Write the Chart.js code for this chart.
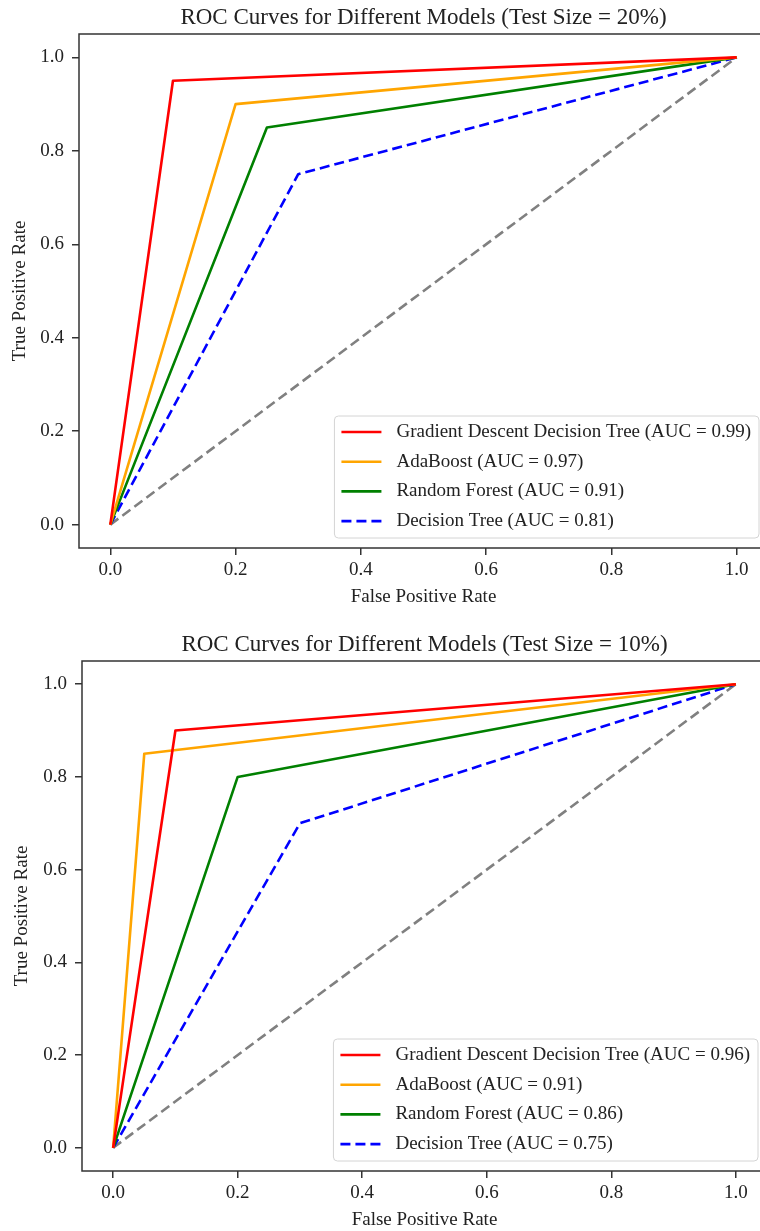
<!DOCTYPE html>
<html>
<head>
<meta charset="utf-8">
<script src="https://cdn.jsdelivr.net/npm/chart.js@4.4.0/dist/chart.umd.min.js"></script>
<style>
  html, body { margin: 0; padding: 0; background: #fff; overflow: hidden; }
  canvas { display: block; }
</style>
</head>
<body>
<canvas id="roc20" width="770" height="620"></canvas>
<canvas id="roc10" width="770" height="611"></canvas>
<script>
// models and AUC scores shown in the legends
var modelNames = ['Gradient Descent Decision Tree', 'AdaBoost', 'Random Forest', 'Decision Tree'];
var auc20 = [0.99, 0.97, 0.91, 0.81];
var auc10 = [0.96, 0.91, 0.86, 0.75];

// ROC points for test size 20%
var fpr20 = [[0, 0.1, 1], [0, 0.2, 1], [0, 0.25, 1], [0, 0.3, 1]];
var tpr20 = [[0, 0.95, 1], [0, 0.9, 1], [0, 0.85, 1], [0, 0.75, 1]];

// ROC points for test size 10%
var fpr10 = [[0, 0.1, 1], [0, 0.05, 1], [0, 0.2, 1], [0, 0.3, 1]];
var tpr10 = [[0, 0.9, 1], [0, 0.85, 1], [0, 0.8, 1], [0, 0.7, 1]];

// chance diagonal
var chanceX = [0, 1];
var chanceY = [0, 1];

// tick labels on both axes
var tickValues = [0, 0.2, 0.4, 0.6, 0.8, 1.0];

var lineColors = ['#ff0000', '#ffa500', '#008000', '#0000ff'];
var lineDashes = [[], [], [], [10, 5]];
var textColor = '#222';
var serif = "'Liberation Serif', 'Times New Roman', serif";

Chart.defaults.font.family = serif;
Chart.defaults.color = textColor;

function toPoints(xs, ys) {
  return xs.map(function (x, i) { return { x: x, y: ys[i] }; });
}

// legend drawn inside the plot, lower right
var insideLegend = {
  id: 'insideLegend',
  afterDatasetsDraw: function (chart) {
    var ctx = chart.ctx;
    var area = chart.chartArea;
    var items = chart.data.datasets.filter(function (d) { return d.label; });
    ctx.save();
    ctx.font = '19px ' + serif;
    var textW = 0;
    items.forEach(function (d) {
      textW = Math.max(textW, ctx.measureText(d.label).width);
    });
    var w = 7 + 40 + 15 + textW + 8;
    var h = 122;
    var x = area.right - 9 - w;
    var y = area.bottom - 10 - h;
    ctx.beginPath();
    ctx.roundRect(x, y, w, h, 4);
    ctx.fillStyle = 'rgba(255,255,255,0.8)';
    ctx.fill();
    ctx.strokeStyle = '#d4d4d4';
    ctx.lineWidth = 1;
    ctx.stroke();
    items.forEach(function (d, i) {
      var cy = y + 16 + i * 29.7;
      ctx.beginPath();
      ctx.setLineDash(d.borderDash || []);
      ctx.strokeStyle = d.borderColor;
      ctx.lineWidth = d.borderWidth;
      ctx.moveTo(x + 7, cy);
      ctx.lineTo(x + 47, cy);
      ctx.stroke();
      ctx.setLineDash([]);
      ctx.fillStyle = textColor;
      ctx.textBaseline = 'middle';
      ctx.fillText(d.label, x + 62, cy);
    });
    ctx.restore();
  }
};

// box around the plot area
var frame = {
  id: 'frame',
  afterDraw: function (chart) {
    var a = chart.chartArea;
    var ctx = chart.ctx;
    ctx.save();
    ctx.strokeStyle = '#333';
    ctx.lineWidth = 1.5;
    ctx.strokeRect(a.left, a.top, a.right - a.left, a.bottom - a.top);
    ctx.restore();
  }
};

function makeChart(id, title, fpr, tpr, auc, lay) {
  var datasets = modelNames.map(function (name, i) {
    return {
      label: name + ' (AUC = ' + auc[i].toFixed(2) + ')',
      data: toPoints(fpr[i], tpr[i]),
      borderColor: lineColors[i],
      borderWidth: 2.6,
      borderDash: lineDashes[i],
      borderJoinStyle: 'round',
      pointRadius: 0,
      fill: false,
      tension: 0
    };
  });
  datasets.push({
    label: '',
    data: toPoints(chanceX, chanceY),
    borderColor: '#808080',
    borderWidth: 2.6,
    borderDash: [10, 5],
    pointRadius: 0,
    fill: false
  });

  var axisTicks = function (scale) {
    scale.ticks = tickValues.map(function (v) { return { value: v }; });
  };

  return new Chart(document.getElementById(id), {
    type: 'line',
    data: { datasets: datasets },
    plugins: [insideLegend, frame],
    options: {
      responsive: false,
      animation: false,
      events: [],
      layout: { padding: { left: 0, right: lay.padRight, top: 0, bottom: 0 } },
      plugins: {
        legend: { display: false },
        tooltip: { enabled: false },
        title: {
          display: true,
          fullSize: false,
          text: title,
          color: textColor,
          font: { size: 23, weight: 'normal' },
          padding: { top: lay.titleTop, bottom: lay.titleBottom }
        }
      },
      scales: {
        x: {
          type: 'linear',
          min: -0.05,
          max: 1.05,
          afterBuildTicks: axisTicks,
          afterFit: function (scale) { scale.height = lay.xHeight; },
          border: { display: false },
          grid: { drawOnChartArea: false, drawTicks: true, tickLength: 7, color: '#333', lineWidth: 1.5 },
          ticks: {
            font: { size: 19 },
            color: textColor,
            padding: 4,
            maxRotation: 0,
            callback: function (v) { return v.toFixed(1); }
          },
          title: {
            display: true,
            text: 'False Positive Rate',
            color: textColor,
            font: { size: 19 },
            padding: { top: 0, bottom: lay.xTitlePad }
          }
        },
        y: {
          type: 'linear',
          min: -0.05,
          max: 1.05,
          afterBuildTicks: axisTicks,
          afterFit: function (scale) { scale.width = lay.yWidth; },
          border: { display: false },
          grid: { drawOnChartArea: false, drawTicks: true, tickLength: 7, color: '#333', lineWidth: 1.5 },
          ticks: {
            font: { size: 19 },
            color: textColor,
            padding: 8,
            callback: function (v) { return v.toFixed(1); }
          },
          title: {
            display: true,
            text: 'True Positive Rate',
            color: textColor,
            font: { size: 19 },
            padding: { top: lay.yTitlePad, bottom: 0 }
          }
        }
      }
    }
  });
}

window.onload = function () {
  makeChart('roc20', 'ROC Curves for Different Models (Test Size = 20%)', fpr20, tpr20, auc20,
    { padRight: 2, titleTop: 4.2, titleBottom: 2.2, xHeight: 72, yWidth: 79, xTitlePad: 11.6, yTitlePad: 8.6 });
  makeChart('roc10', 'ROC Curves for Different Models (Test Size = 10%)', fpr10, tpr10, auc10,
    { padRight: 3, titleTop: 11.2, titleBottom: 2.2, xHeight: 60, yWidth: 82, xTitlePad: 0, yTitlePad: 10.5 });
};
</script>
</body>
</html>
